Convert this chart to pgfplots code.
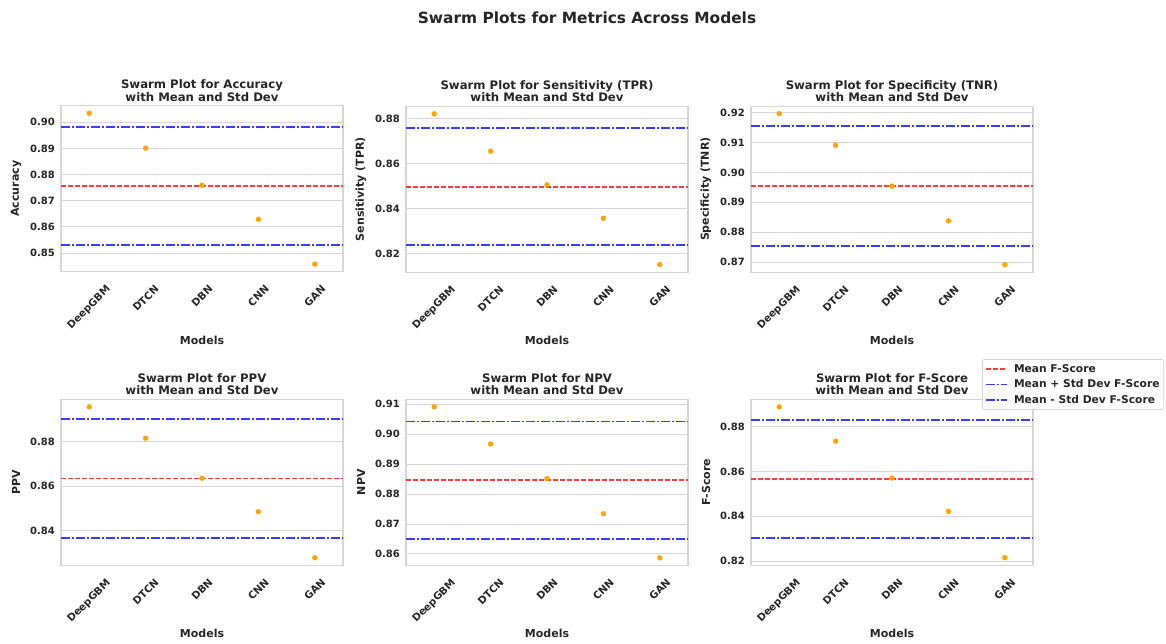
\documentclass[border=0pt]{standalone}
\usepackage{fontspec}
\setmainfont{DejaVu Sans}
\usepackage{graphicx}
\usepackage{pgfplots}
\pgfplotsset{compat=1.18}
\definecolor{txt}{HTML}{262626}
\definecolor{gridc}{HTML}{D6D6D6}
\definecolor{ptc}{HTML}{FFA500}
\definecolor{lred}{HTML}{FF3B3B}
\definecolor{lblue}{HTML}{3B3BFF}
\newcommand\fs[2]{\fontsize{#1}{#2}\selectfont\bfseries}
\pgfplotsset{
  swarm/.style={
    scale only axis, width=282pt, height=166pt,
    xmin=-0.5, xmax=4.5,
    xtick={0,1,2,3,4},
    xticklabels={{\rotatebox{45}{DeepGBM}},{\rotatebox{45}{DTCN}},{\rotatebox{45}{DBN}},{\rotatebox{45}{CNN}},{\rotatebox{45}{GAN}}},
    xticklabel style={anchor=north, inner sep=0pt, yshift=-12.5pt, font=\fs{10.2}{12}, text=txt},
    major tick length=0pt,
    ymajorgrids, grid style={gridc, line width=0.9pt},
    axis line style={gridc, line width=1.2pt},
    yticklabel style={font=\fs{10}{12}, inner sep=0pt, xshift=-6pt, text=txt},
    scaled y ticks=false,
    yticklabel style={/pgf/number format/.cd, fixed, fixed zerofill, precision=2, assume math mode=true},
    xlabel={Models},
    xlabel style={at={(axis description cs:0.5,-0.4127)}, anchor=center, font=\fs{11}{13}, text=txt},
    ylabel style={at={(axis description cs:-0.1596,0.5)}, anchor=center, font=\fs{11}{13}, text=txt},
    title style={at={(axis description cs:0.5,1)}, anchor=south, align=center, inner sep=0pt, yshift=-1.9pt, font=\fs{11.7}{12.7}, text=txt},
    clip=false,
  },
  pts/.style={only marks, mark=*, mark size=2.5pt, mark options={draw=ptc, fill=ptc, line width=0.3pt}, forget plot},
  meanl/.style={lred, line width=1.8pt, dash pattern=on 4.7pt off 2.3pt},
  sdl/.style={lblue, line width=1.8pt, dash pattern=on 9pt off 2pt on 2pt off 2pt},
}
\begin{document}
\begin{tikzpicture}
\path[use as bounding box] (0,0) rectangle (1166pt,-643pt);
\node[font=\fs{15.4}{18}, text=txt] at (587pt,-18pt) {Swarm Plots for Metrics Across Models};

% Panel 1: Accuracy
\begin{axis}[swarm, at={(61pt,-105.7pt)}, anchor=north west,
  ymin=0.8429, ymax=0.9063, ytick={0.85,0.86,0.87,0.88,0.89,0.90},
  ylabel={Accuracy}, title={Swarm Plot for Accuracy\\with Mean and Std Dev}]
\addplot[pts] coordinates {(0,0.9034) (1,0.8901) (2,0.8759) (3,0.8629) (4,0.8458)};
\addplot[meanl] coordinates {(-0.5,0.8756) (4.5,0.8756)};
\addplot[sdl] coordinates {(-0.5,0.8982) (4.5,0.8982)};
\addplot[sdl] coordinates {(-0.5,0.8531) (4.5,0.8531)};
\end{axis}

% Panel 2: Sensitivity
\begin{axis}[swarm, at={(406pt,-106.2pt)}, anchor=north west,
  ymin=0.8117, ymax=0.8856, ytick={0.82,0.84,0.86,0.88},
  ylabel={Sensitivity (TPR)}, title={Swarm Plot for Sensitivity (TPR)\\with Mean and Std Dev}]
\addplot[pts] coordinates {(0,0.8822) (1,0.8656) (2,0.8506) (3,0.8357) (4,0.8151)};
\addplot[meanl] coordinates {(-0.5,0.8498) (4.5,0.8498)};
\addplot[sdl] coordinates {(-0.5,0.8758) (4.5,0.8758)};
\addplot[sdl] coordinates {(-0.5,0.8239) (4.5,0.8239)};
\end{axis}

% Panel 3: Specificity
\begin{axis}[swarm, at={(751pt,-106.2pt)}, anchor=north west,
  ymin=0.8666, ymax=0.9222, ytick={0.87,0.88,0.89,0.90,0.91,0.92},
  ylabel={Specificity (TNR)}, title={Swarm Plot for Specificity (TNR)\\with Mean and Std Dev}]
\addplot[pts] coordinates {(0,0.9197) (1,0.9091) (2,0.8954) (3,0.8838) (4,0.8691)};
\addplot[meanl] coordinates {(-0.5,0.8954) (4.5,0.8954)};
\addplot[sdl] coordinates {(-0.5,0.9155) (4.5,0.9155)};
\addplot[sdl] coordinates {(-0.5,0.8754) (4.5,0.8754)};
\end{axis}

% Panel 4: PPV
\begin{axis}[swarm, at={(61pt,-399.3pt)}, anchor=north west,
  ymin=0.8243, ymax=0.8990, ytick={0.84,0.86,0.88},
  ylabel={PPV}, title={Swarm Plot for PPV\\with Mean and Std Dev}]
\addplot[pts] coordinates {(0,0.8956) (1,0.8815) (2,0.8635) (3,0.8484) (4,0.8277)};
\addplot[meanl] coordinates {(-0.5,0.8634) (4.5,0.8634)};
\addplot[sdl] coordinates {(-0.5,0.8901) (4.5,0.8901)};
\addplot[sdl] coordinates {(-0.5,0.8366) (4.5,0.8366)};
\end{axis}

% Panel 5: NPV
\begin{axis}[swarm, at={(406pt,-399.3pt)}, anchor=north west,
  ymin=0.8562, ymax=0.9116, ytick={0.86,0.87,0.88,0.89,0.90,0.91},
  ylabel={NPV}, title={Swarm Plot for NPV\\with Mean and Std Dev}]
\addplot[pts] coordinates {(0,0.9091) (1,0.8967) (2,0.8851) (3,0.8734) (4,0.8587)};
\addplot[meanl] coordinates {(-0.5,0.8848) (4.5,0.8848)};
\addplot[sdl] coordinates {(-0.5,0.9042) (4.5,0.9042)};
\addplot[sdl] coordinates {(-0.5,0.8650) (4.5,0.8650)};
\end{axis}

% Panel 6: F-Score
\begin{axis}[swarm, at={(751pt,-399.3pt)}, anchor=north west,
  ymin=0.8181, ymax=0.8923, ytick={0.82,0.84,0.86,0.88},
  ylabel={F-Score}, title={Swarm Plot for F-Score\\with Mean and Std Dev},
  legend style={at={(axis description cs:0.8195,1.2426)}, anchor=north west,
    draw=gridc, line width=0.8pt, rounded corners=2pt, fill=white,
    inner xsep=2pt, inner ysep=1.5pt, row sep=0pt,
    font=\fs{10.7}{12}, text=txt,
    nodes={inner sep=2.2pt, text height=8.9pt, text depth=2.4pt, anchor=west}},
  legend cell align=left,
  legend image code/.code={\draw[#1] (0pt,0pt) -- (21pt,0pt); \path (-0.5pt,0pt) (25pt,0pt);}]
\addplot[pts] coordinates {(0,0.8889) (1,0.8736) (2,0.8571) (3,0.8422) (4,0.8215)};
\addplot[meanl] coordinates {(-0.5,0.8567) (4.5,0.8567)};
\addlegendentry{Mean F-Score}
\addplot[sdl] coordinates {(-0.5,0.8830) (4.5,0.8830)};
\addlegendentry{Mean + Std Dev F-Score}
\addplot[sdl] coordinates {(-0.5,0.8304) (4.5,0.8304)};
\addlegendentry{Mean - Std Dev F-Score}
\end{axis}
\end{tikzpicture}
\end{document}
